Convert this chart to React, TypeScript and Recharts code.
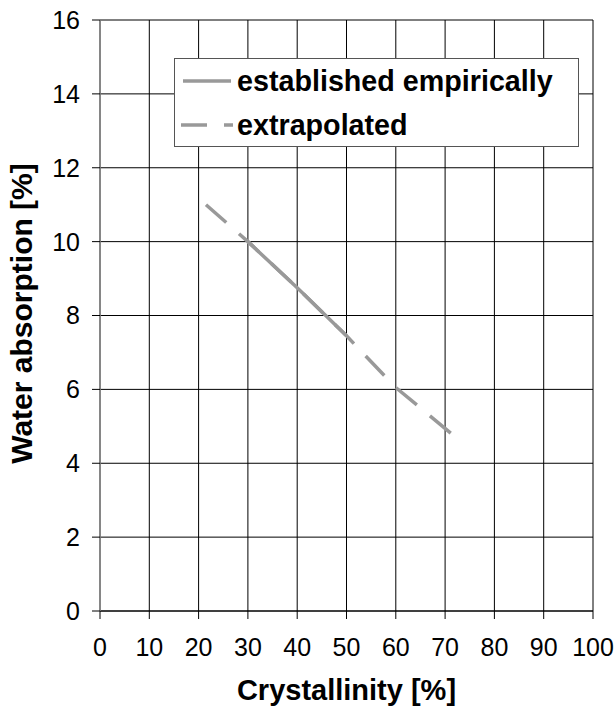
import React from 'react';
import {
  LineChart,
  Line,
  XAxis,
  YAxis,
  CartesianGrid,
  Legend,
  Label,
} from 'recharts';

const xTicks = [0, 10, 20, 30, 40, 50, 60, 70, 80, 90, 100];
const yTicks = [0, 2, 4, 6, 8, 10, 12, 14, 16];

// extrapolated (dashed) curve
const extrapolatedX = [21.5, 30, 40, 50, 60, 71.3];
const extrapolatedY = [11.0, 10.0, 8.75, 7.45, 6.05, 4.8];

// empirically established part (solid)
const empiricalX = [30, 40, 50];
const empiricalY = [10.0, 8.75, 7.45];

const seriesNames = ['established empirically', 'extrapolated'];

const extrapolatedData = extrapolatedX.map((x, i) => ({ x, y: extrapolatedY[i] }));
const empiricalData = empiricalX.map((x, i) => ({ x, y: empiricalY[i] }));

const FONT = 'Arial, "Liberation Sans", sans-serif';
const LINE_COLOR = '#999999';
const DASH = '27 17';

const renderLegend = () => (
  <div
    style={{
      position: 'relative',
      width: 405,
      height: 89,
      boxSizing: 'border-box',
      border: '1.5px solid #555',
      background: '#fff',
      fontFamily: FONT,
      fontWeight: 'bold',
      fontSize: 28.7,
      color: '#000',
    }}
  >
    {seriesNames.map((name, i) => (
      <div
        key={name}
        style={{
          position: 'absolute',
          left: 0,
          top: i * 44,
          height: 44,
          display: 'flex',
          alignItems: 'center',
          whiteSpace: 'nowrap',
        }}
      >
        <svg width={62} height={10} style={{ display: 'block' }}>
          <line
            x1={i === 0 ? 8 : 6}
            x2={i === 0 ? 56 : 58}
            y1={5}
            y2={5}
            stroke={LINE_COLOR}
            strokeWidth={3.5}
            strokeDasharray={i === 0 ? undefined : '26 17'}
          />
        </svg>
        <span>{name}</span>
      </div>
    ))}
  </div>
);

const renderYTitle = (props: any) => {
  const vb = props.viewBox || { x: 0, y: 20, width: 100, height: 591 };
  const cx = 21.5;
  const cy = vb.y + vb.height / 2 - 2;
  return (
    <text
      x={0}
      y={0}
      transform={`translate(${cx}, ${cy}) rotate(-90)`}
      textAnchor="middle"
      dominantBaseline="central"
      fontFamily={FONT}
      fontWeight="bold"
      fontSize={30}
      fill="#000"
    >
      Water absorption [%]
    </text>
  );
};

export default function App() {
  return (
    <div style={{ position: 'absolute', left: 0, top: 0, background: '#fff' }}>
      <LineChart
        width={614}
        height={715}
        margin={{ top: 20, right: 21, left: 0, bottom: 0 }}
      >
        <CartesianGrid stroke="#000" strokeWidth={1} />
        <XAxis
          type="number"
          dataKey="x"
          domain={[0, 100]}
          ticks={xTicks}
          interval={0}
          height={104}
          axisLine={{ stroke: '#000', strokeWidth: 1 }}
          tickLine={{ stroke: '#000' }}
          tickSize={8}
          tickMargin={19}
          tick={{ fill: '#000', fontSize: 25, fontFamily: FONT }}
        >
          <Label
            value="Crystallinity [%]"
            position="insideBottom"
            offset={15}
            style={{ fontFamily: FONT, fontWeight: 'bold', fontSize: 29, fill: '#000' }}
          />
        </XAxis>
        <YAxis
          type="number"
          dataKey="y"
          domain={[0, 16]}
          ticks={yTicks}
          interval={0}
          width={100}
          axisLine={{ stroke: '#888', strokeWidth: 1.5 }}
          tickLine={{ stroke: '#000' }}
          tickSize={8}
          tickMargin={12}
          tick={{ fill: '#000', fontSize: 25, fontFamily: FONT }}
        >
          <Label content={renderYTitle} />
        </YAxis>
        <Legend
          layout="horizontal"
          align="center"
          verticalAlign="middle"
          content={renderLegend}
          wrapperStyle={{ left: 174, top: 58, width: 405, height: 89 }}
        />
        <Line
          data={extrapolatedData}
          dataKey="y"
          name="extrapolated"
          type="linear"
          stroke={LINE_COLOR}
          strokeWidth={3.5}
          strokeDasharray={DASH}
          dot={false}
          activeDot={false}
          isAnimationActive={false}
        />
        <Line
          data={empiricalData}
          dataKey="y"
          name="established empirically"
          type="linear"
          stroke={LINE_COLOR}
          strokeWidth={3.5}
          dot={false}
          activeDot={false}
          isAnimationActive={false}
        />
      </LineChart>
    </div>
  );
}
